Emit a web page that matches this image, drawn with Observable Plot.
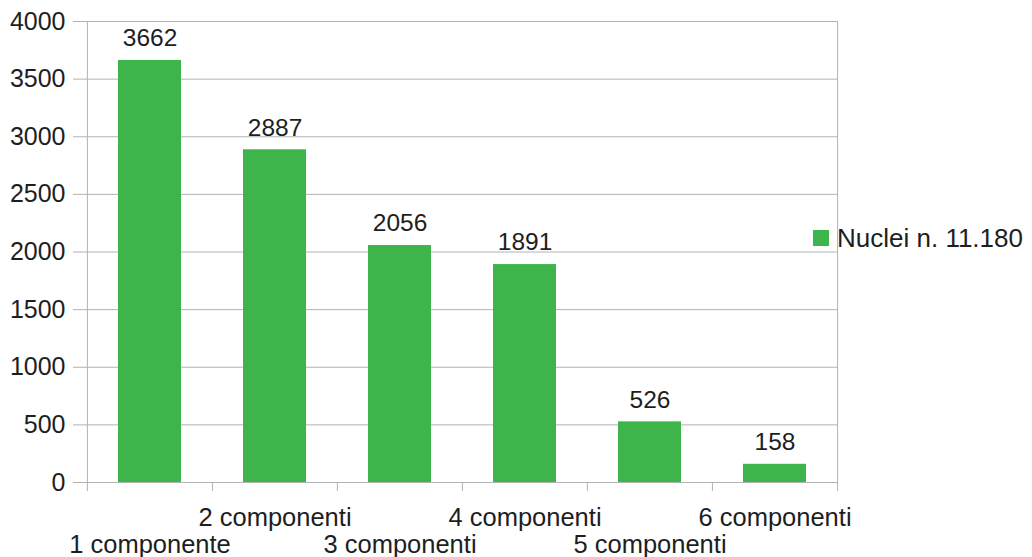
<!DOCTYPE html>
<html><head><meta charset="utf-8">
<script src="https://cdn.jsdelivr.net/npm/d3@7"></script>
<script src="https://cdn.jsdelivr.net/npm/@observablehq/plot@0.6"></script>
<style>
body{margin:0;background:#fff;}
#wrap{position:relative;width:1032px;height:557px;font-family:"Liberation Sans",Arial,sans-serif;color:#1e1e1e;}
#legend{position:absolute;left:813px;top:223px;display:flex;align-items:center;font-size:26px;line-height:30px;color:#1e1e1e;z-index:2;white-space:nowrap;}
#legend .sw{display:inline-block;width:16px;height:16px;background:#3db54a;margin-right:8px;}
</style></head><body>
<div id="wrap"></div>
<script>
const categories = ["1 componente", "2 componenti", "3 componenti", "4 componenti", "5 componenti", "6 componenti"];
const values = [3662, 2887, 2056, 1891, 526, 158];
const seriesName = "Nuclei n. 11.180";
const yTicks = [0, 500, 1000, 1500, 2000, 2500, 3000, 3500, 4000];

const W = 1032, H = 557;
const mL = 86, mR = 195, mT = 21, mB = 75;
const step = (W - mL - mR) / categories.length;
const plotH = H - mT - mB;
const green = "#3db54a", gray = "#b3b3b3", ink = "#1e1e1e";

const table = categories.map((c, i) => ({cat: c, value: values[i]}));
const upper = categories.filter((_, i) => i % 2 === 1);
const lower = categories.filter((_, i) => i % 2 === 0);

const chart = Plot.plot({
  width: W, height: H,
  marginLeft: mL, marginRight: mR, marginTop: mT, marginBottom: mB,
  style: {fontFamily: '"Liberation Sans", Arial, sans-serif', fontSize: "24px", color: ink, background: "#fff"},
  x: {type: "band", domain: categories, paddingInner: 0.5, paddingOuter: 0.25, axis: null},
  y: {domain: [0, 4000], axis: null},
  marks: [
    Plot.gridY(yTicks, {stroke: gray, strokeOpacity: 1}),
    Plot.axisY(yTicks, {tickSize: 13, tickPadding: 8, stroke: gray, strokeOpacity: 1, fontSize: 25, label: null, tickFormat: d => String(d)}),
    Plot.ruleX([categories[0]], {x: d => d, dx: -step / 2, stroke: gray, insetBottom: -9}),
    Plot.ruleX([categories[categories.length - 1]], {x: d => d, dx: step / 2, stroke: gray, insetBottom: -9}),
    Plot.ruleX(categories.slice(1), {x: d => d, dx: -step / 2, stroke: gray, insetTop: plotH, insetBottom: -9}),
    Plot.barY(table, {x: "cat", y: "value", fill: green}),
    Plot.text(table, {x: "cat", y: "value", text: d => String(d.value), dy: -22, fontSize: 24.5, fill: ink}),
    Plot.text(upper, {x: d => d, text: d => d, frameAnchor: "bottom", lineAnchor: "middle", dy: 35, fontSize: 25.5, fill: ink}),
    Plot.text(lower, {x: d => d, text: d => d, frameAnchor: "bottom", lineAnchor: "middle", dy: 62, fontSize: 25.5, fill: ink})
  ]
});
const wrap = document.getElementById("wrap");
wrap.appendChild(chart);
const leg = document.createElement("div");
leg.id = "legend";
leg.innerHTML = '<span class="sw"></span>';
leg.appendChild(document.createTextNode(seriesName));
wrap.appendChild(leg);
</script>
</body></html>
